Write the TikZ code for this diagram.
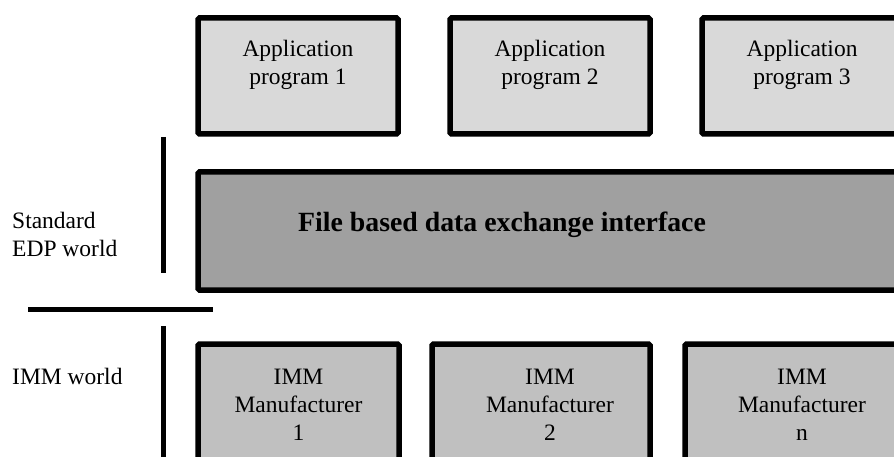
\documentclass[tikz,border=0pt]{standalone}
\usepackage{fontspec}
\setmainfont{Liberation Serif}
\usetikzlibrary{positioning}
\definecolor{applight}{HTML}{D9D9D9}
\definecolor{ifacegray}{HTML}{A0A0A0}
\definecolor{immgray}{HTML}{C0C0C0}
\tikzset{
  layer/.style={draw,line width=5.5pt,rounded corners=1.5pt,inner sep=0pt},
}
\tikzstyle{every node}=[font=\fontsize{23.5}{28}\selectfont]
\tikzstyle{appbox}=[layer,fill=applight,minimum width=200pt,minimum height=116pt]
\tikzstyle{immbox}=[layer,fill=immgray,minimum height=160pt]
\tikzstyle{boxtext}=[align=center,inner sep=0pt,anchor=north]
\tikzstyle{divider}=[line width=5pt]

\begin{document}
\begin{tikzpicture}[x=1pt,y=-1pt]
        \useasboundingbox (0,0) rectangle (894,457);
        \clip (0,0) rectangle (894,457);
        % application layer
        \node[appbox] (app1) at (298,76) {};
        \node[appbox] (app2) at (550,76) {};
        \node[appbox] (app3) at (802,76) {};
        \node[boxtext,below=25pt of app1.north] (app1txt) {Application\\program 1};
        \node[boxtext,below=25pt of app2.north] (app2txt) {Application\\program 2};
        \node[boxtext,below=25pt of app3.north] (app3txt) {Application\\program 3};
        % interface
        \node[layer,fill=ifacegray,minimum width=720pt,minimum height=118pt] (iface) at (558,231) {};
        \node[anchor=base,inner sep=0pt,font=\fontsize{27.8}{32}\selectfont\bfseries] (ifacetxt) at (502,232) {File based data exchange interface};
        % machine layer
        \node[immbox,minimum width=201pt] (imm1) at (298.5,424) {};
        \node[immbox,minimum width=218pt] (imm2) at (541,424) {};
        \node[immbox,minimum width=218pt] (imm3) at (794,424) {};
        \node[boxtext,below=28pt of imm1.north] (imm1txt) {IMM\\Manufacturer\\1};
        \node[boxtext,below=28pt of imm2.north,xshift=9pt] (imm2txt) {IMM\\Manufacturer\\2};
        \node[boxtext,below=28pt of imm3.north,xshift=8pt] (imm3txt) {IMM\\Manufacturer\\n};
        % worlds
        \node[align=left,inner sep=0pt,anchor=north west] (edp) at (12,212) {Standard\\EDP world};
        \node[inner sep=0pt,anchor=base west] (immw) at (12,384) {IMM world};
        \draw[divider] (163,137)--(163,273);
        \draw[divider] (28,309)--(213,309);
        \draw[divider] (163,326)--(163,462);
      \end{tikzpicture}
\end{document}
